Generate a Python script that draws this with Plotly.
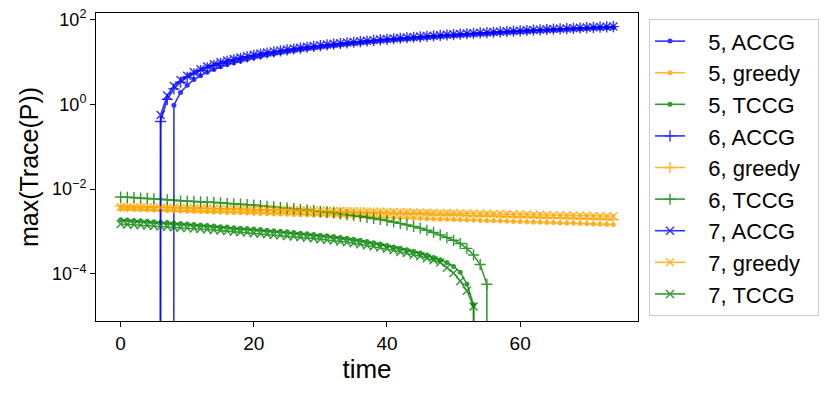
import plotly.graph_objects as go

time = list(range(75))

# values (0 = non-positive, drawn off the bottom of the log axis)
accg_5 = [0, 0, 0, 0, 0, 0, 0, 0,
          0.95, 1.9, 2.8, 3.8, 4.7, 5.7, 6.6, 7.6, 8.6, 9.5, 10.5, 11.5, 12.4, 13.4, 14.4,
          15.3, 16.3, 17.3, 18.2, 19.2, 20.2, 21.1, 22.1, 23.0, 24.0, 25.0, 25.9, 26.9,
          27.9, 28.8, 29.8, 30.7, 31.7, 32.7, 33.6, 34.6, 35.6, 36.5, 37.5, 38.4, 39.4,
          40.4, 41.3, 42.3, 43.2, 44.2, 45.2, 46.1, 47.1, 48.1, 49.0, 50.0, 50.9, 51.9,
          52.9, 53.8, 54.8, 55.7, 56.7, 57.7, 58.6, 59.6, 60.5, 61.5, 62.5, 63.4, 64.4]
greedy_5 = [3.39, 3.35, 3.31, 3.28, 3.24, 3.20, 3.16, 3.13, 3.09, 3.06, 3.02, 2.99, 2.95,
            2.92, 2.88, 2.85, 2.82, 2.79, 2.75, 2.72, 2.69, 2.66, 2.63, 2.60, 2.57, 2.54,
            2.51, 2.48, 2.46, 2.43, 2.40, 2.37, 2.35, 2.32, 2.30, 2.27, 2.24, 2.22, 2.19,
            2.17, 2.14, 2.12, 2.09, 2.07, 2.04, 2.02, 2.00, 1.98, 1.95, 1.93, 1.91, 1.89,
            1.87, 1.84, 1.82, 1.80, 1.78, 1.76, 1.74, 1.72, 1.70, 1.68, 1.66, 1.65, 1.63,
            1.61, 1.59, 1.57, 1.56, 1.54, 1.52, 1.50, 1.48, 1.47, 1.45]
tccg_5 = [1.90, 1.86, 1.82, 1.78, 1.74, 1.70, 1.66, 1.62, 1.58, 1.54, 1.50, 1.46, 1.42,
          1.38, 1.34, 1.30, 1.27, 1.23, 1.20, 1.17, 1.14, 1.11, 1.07, 1.04, 1.01, 0.98,
          0.94, 0.91, 0.88, 0.85, 0.82, 0.79, 0.76, 0.72, 0.69, 0.66, 0.62, 0.58, 0.54,
          0.51, 0.47, 0.43, 0.40, 0.37, 0.34, 0.31, 0.28, 0.245, 0.215, 0.185, 0.150,
          0.110, 0.058, 0.019,
          0, 0, 0, 0, 0, 0, 0, 0, 0, 0, 0, 0, 0, 0, 0, 0, 0, 0, 0, 0, 0]
accg_6 = [0, 0, 0, 0, 0, 0,
          0.39, 1.3, 2.3, 3.3, 4.3, 5.2, 6.2, 7.2, 8.2, 9.2, 10.2, 11.1, 12.1, 13.1, 14.1,
          15.1, 16.1, 17.1, 18.0, 19.0, 20.0, 21.0, 22.0, 23.0, 24.0, 25.0, 26.0, 27.0,
          27.9, 28.9, 29.9, 30.9, 31.9, 32.9, 33.9, 34.9, 35.9, 36.9, 37.9, 38.8, 39.8,
          40.8, 41.8, 42.8, 43.8, 44.8, 45.8, 46.8, 47.8, 48.8, 49.7, 50.7, 51.7, 52.7,
          53.7, 54.7, 55.7, 56.7, 57.7, 58.7, 59.6, 60.6, 61.6, 62.6, 63.6, 64.6, 65.6,
          66.6, 67.6]
greedy_6 = [3.98, 3.94, 3.90, 3.87, 3.83, 3.79, 3.75, 3.71, 3.67, 3.64, 3.60, 3.57, 3.53,
            3.50, 3.46, 3.43, 3.40, 3.36, 3.33, 3.29, 3.26, 3.23, 3.20, 3.16, 3.13, 3.10,
            3.07, 3.04, 3.01, 2.98, 2.95, 2.92, 2.89, 2.87, 2.84, 2.81, 2.78, 2.75, 2.73,
            2.70, 2.67, 2.64, 2.62, 2.59, 2.57, 2.54, 2.52, 2.49, 2.47, 2.44, 2.42, 2.40,
            2.37, 2.35, 2.32, 2.30, 2.28, 2.26, 2.23, 2.21, 2.19, 2.17, 2.15, 2.12, 2.10,
            2.08, 2.06, 2.04, 2.02, 2.00, 1.98, 1.96, 1.94, 1.92, 1.90]
tccg_6 = [6.5, 6.4, 6.3, 6.1, 6.0, 5.9, 5.75, 5.6, 5.45, 5.3, 5.2, 5.1, 5.0, 4.9, 4.85,
          4.75, 4.6, 4.5, 4.4, 4.3, 4.2, 4.05, 3.9, 3.8, 3.65, 3.55, 3.45, 3.3, 3.2, 3.1,
          2.95, 2.85, 2.75, 2.6, 2.5, 2.4, 2.28, 2.15, 2.03, 1.92, 1.8, 1.68, 1.55, 1.43,
          1.32, 1.2, 1.07, 0.95, 0.83, 0.72, 0.62, 0.52, 0.40, 0.28, 0.166, 0.057,
          0, 0, 0, 0, 0, 0, 0, 0, 0, 0, 0, 0, 0, 0, 0, 0, 0, 0, 0]
accg_7 = [0, 0, 0, 0, 0, 0,
          0.56, 1.6, 2.7, 3.7, 4.7, 5.7, 6.7, 7.7, 8.7, 9.7, 10.7, 11.6, 12.6, 13.6, 14.6,
          15.6, 16.6, 17.6, 18.5, 19.5, 20.5, 21.5, 22.5, 23.5, 24.5, 25.5, 26.5, 27.5,
          28.4, 29.4, 30.4, 31.4, 32.4, 33.4, 34.4, 35.4, 36.4, 37.4, 38.4, 39.3, 40.3,
          41.3, 42.3, 43.3, 44.3, 45.3, 46.3, 47.3, 48.3, 49.3, 50.2, 51.2, 52.2, 53.2,
          54.2, 55.2, 56.2, 57.2, 58.2, 59.2, 60.1, 61.1, 62.1, 63.1, 64.1, 65.1, 66.1,
          67.1, 68.1]
greedy_7 = [3.80, 3.77, 3.75, 3.72, 3.70, 3.67, 3.65, 3.62, 3.60, 3.57, 3.55, 3.53, 3.50,
            3.48, 3.45, 3.43, 3.41, 3.38, 3.36, 3.33, 3.31, 3.29, 3.27, 3.24, 3.22, 3.20,
            3.18, 3.16, 3.13, 3.11, 3.09, 3.07, 3.05, 3.03, 3.01, 2.99, 2.97, 2.95, 2.93,
            2.91, 2.89, 2.87, 2.85, 2.83, 2.81, 2.79, 2.77, 2.75, 2.74, 2.72, 2.70, 2.68,
            2.66, 2.65, 2.63, 2.61, 2.59, 2.57, 2.56, 2.54, 2.52, 2.50, 2.48, 2.47, 2.45,
            2.43, 2.41, 2.40, 2.38, 2.37, 2.35, 2.33, 2.32, 2.30, 2.29]
tccg_7 = [1.50, 1.47, 1.44, 1.41, 1.38, 1.35, 1.32, 1.29, 1.26, 1.23, 1.20, 1.17, 1.14,
          1.11, 1.08, 1.05, 1.02, 0.99, 0.96, 0.94, 0.91, 0.88, 0.86, 0.83, 0.81, 0.78,
          0.76, 0.73, 0.71, 0.68, 0.66, 0.63, 0.61, 0.58, 0.56, 0.53, 0.50, 0.47, 0.44,
          0.42, 0.39, 0.36, 0.33, 0.31, 0.28, 0.26, 0.235, 0.21, 0.185, 0.14, 0.105,
          0.068, 0.040, 0.017,
          0, 0, 0, 0, 0, 0, 0, 0, 0, 0, 0, 0, 0, 0, 0, 0, 0, 0, 0, 0, 0]

small_scale = 1e-3  # greedy and TCCG lists above are in units of 1e-3

series = [
    ("5, ACCG", accg_5, 1.0, "blue", "circle"),
    ("5, greedy", greedy_5, small_scale, "orange", "circle"),
    ("5, TCCG", tccg_5, small_scale, "green", "circle"),
    ("6, ACCG", accg_6, 1.0, "blue", "cross-thin"),
    ("6, greedy", greedy_6, small_scale, "orange", "cross-thin"),
    ("6, TCCG", tccg_6, small_scale, "green", "cross-thin"),
    ("7, ACCG", accg_7, 1.0, "blue", "x-thin"),
    ("7, greedy", greedy_7, small_scale, "orange", "x-thin"),
    ("7, TCCG", tccg_7, small_scale, "green", "x-thin"),
]

ytick_vals = [1e2, 1e0, 1e-2, 1e-4]
ytick_text = ["10<sup>2</sup>", "10<sup>0</sup>", "10<sup>\u22122</sup>", "10<sup>\u22124</sup>"]
xtick_vals = [0, 20, 40, 60]

FLOOR = 1e-300  # non-positive values are clipped like matplotlib's log scale
PAD = "\u00a0\u00a0\u00a0"  # gap between legend symbol and label
TAIL = "\u00a0\u00a0"  # right padding inside the legend box

fig = go.Figure()
for i, (name, vals, scale, color, sym) in enumerate(series):
    y = [v * scale if v > 0 else FLOOR for v in vals]
    if sym == "circle":
        marker = dict(symbol="circle", size=5, color=color, line=dict(width=0))
    else:
        marker = dict(symbol=sym, size=8, color=color, line=dict(width=1.4, color=color))
    fig.add_trace(go.Scatter(
        x=time, y=y, name=PAD + name + TAIL, mode="lines+markers",
        line=dict(color=color, width=1.6), marker=marker,
        opacity=0.8,
    ))

font_family = "Liberation Sans, Arial, Helvetica, sans-serif"
fig.update_layout(
    width=823, height=385,
    margin=dict(l=88, r=193, t=5, b=72, autoexpand=False),
    paper_bgcolor="white", plot_bgcolor="white",
    font=dict(family=font_family, color="black", size=19),
    showlegend=True,
    legend=dict(
        x=1.0203, y=0.9795, xanchor="left", yanchor="top",
        bordercolor="#cccccc", borderwidth=1, bgcolor="white",
        font=dict(size=22), tracegroupgap=0, traceorder="normal",
    ),
    xaxis=dict(
        range=[-3.7, 77.7], tickvals=xtick_vals, ticks="outside", ticklen=5,
        tickcolor="black", showline=True, linecolor="black", linewidth=1,
        mirror=True, showgrid=False, zeroline=False,
        title=dict(text="time", font=dict(size=26), standoff=6),
        tickfont=dict(size=19), ticklabeloverflow="allow",
    ),
    yaxis=dict(
        type="log", range=[-5.11, 2.15], tickvals=ytick_vals, ticktext=ytick_text,
        ticks="outside", ticklen=5, tickcolor="black", showline=True,
        linecolor="black", linewidth=1, mirror=True, showgrid=False, zeroline=False,
        title=dict(text="max(Trace(P))", font=dict(size=25), standoff=6),
        tickfont=dict(size=18), ticklabeloverflow="allow",
    ),
)

fig.write_html("out.html")
